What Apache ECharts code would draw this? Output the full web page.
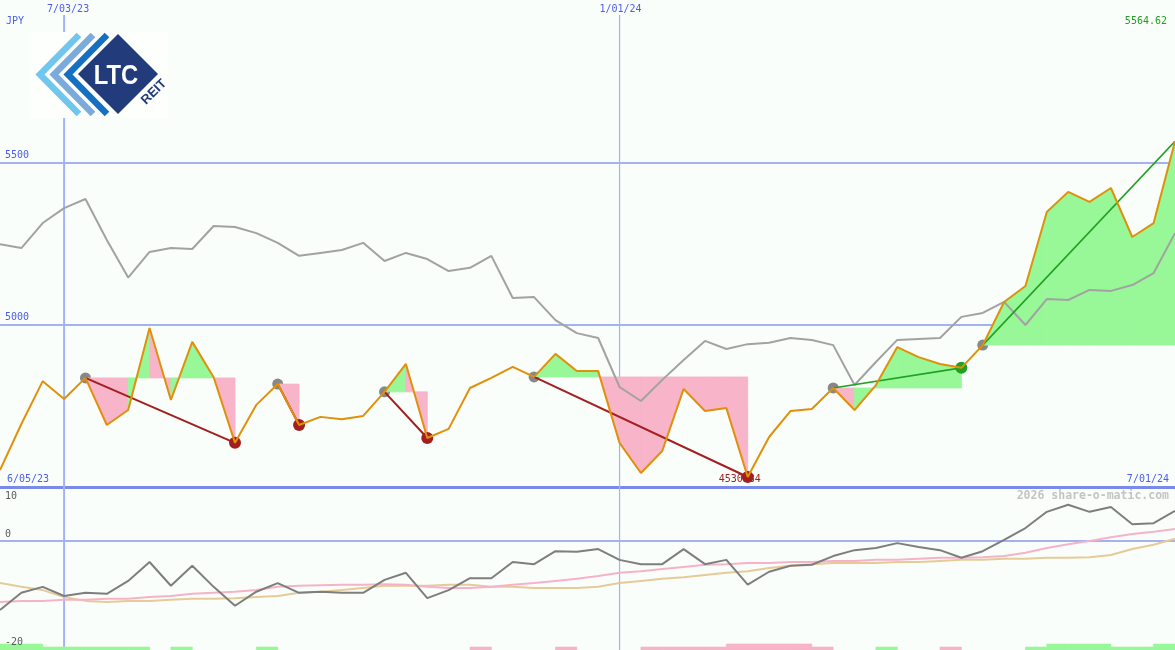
<!DOCTYPE html>
<html><head><meta charset="utf-8">
<script src="https://cdn.jsdelivr.net/npm/echarts@6/dist/echarts.min.js"></script>
<style>html,body{margin:0;padding:0;background:#fafefa}#c{width:1175px;height:650px}</style>
</head><body><div id="c"></div>
<script>
// ---------- data (weekly points, index 0..55) ----------
const gridDateIdx = [3, 29];
const gridDateLabels = ['7/03/23', '1/01/24'];
const rangeLabels = ['6/05/23', '7/01/24'];
const currency = 'JPY';
const watermark = '2026 share-o-matic.com';
const priceTicks = [5000, 5500];
const lowerTicks = [10, 0, -20];

const price = [4552,4694,4826,4771,4836,4691,4737,4990,4768,4947,
               4838,4636,4753,4817,4691,4716,4709,4719,4793,4879,
               4651,4679,4805,4836,4870,4839,4910,4857,4857,4636,
               4543,4611,4802,4734,4743,4530.84,4654,4734,4740,4805,
               4737,4814,4931,4900,4879,4867,4937,5070,5119,5347,
               5409,5378,5421,5270,5313,5564.62];
const indexLine = [5248,5236,5313,5359,5387,5261,5145,5224,5236,5233,
                   5304,5301,5282,5252,5212,5221,5230,5252,5196,5221,
                   5202,5165,5175,5212,5082,5085,5014,4974,4959,4808,
                   4765,4830,4891,4950,4925,4940,4944,4959,4953,4937,
                   4814,4885,4953,4956,4959,5024,5036,5070,4999,5079,
                   5076,5107,5104,5122,5159,5282];
const momentum = [-12.8,-9.6,-8.5,-10.2,-9.6,-9.8,-7.4,-3.9,-8.3,-4.6,
                  -8.5,-12.0,-9.4,-7.8,-9.6,-9.4,-9.6,-9.6,-7.2,-5.9,
                  -10.6,-9.1,-6.9,-6.9,-3.9,-4.3,-1.9,-2.0,-1.5,-3.5,
                  -4.3,-4.3,-1.5,-4.3,-3.5,-8.1,-5.7,-4.6,-4.4,-2.8,
                  -1.7,-1.3,-0.4,-1.1,-1.7,-3.1,-1.9,0.2,2.4,5.4,
                  6.7,5.4,6.3,3.1,3.3,5.6];
const maFast = [-11.3,-11.1,-11.1,-10.9,-10.9,-10.7,-10.7,-10.4,-10.2,-9.8,
                -9.6,-9.4,-9.1,-8.5,-8.3,-8.2,-8.1,-8.1,-8.0,-8.1,
                -8.5,-8.7,-8.7,-8.5,-8.1,-7.8,-7.4,-7.0,-6.5,-5.9,
                -5.6,-5.2,-4.8,-4.4,-4.3,-4.1,-4.1,-3.9,-3.9,-3.7,
                -3.7,-3.5,-3.5,-3.3,-3.1,-3.1,-3.0,-2.8,-2.2,-1.3,
                -0.6,0.0,0.7,1.3,1.7,2.2];
const maSlow = [-7.8,-8.5,-9.1,-10.4,-11.1,-11.3,-11.1,-11.1,-10.9,-10.7,
                -10.7,-10.6,-10.4,-10.2,-9.6,-9.4,-9.1,-8.7,-8.3,-8.3,
                -8.3,-8.1,-8.1,-8.5,-8.5,-8.7,-8.7,-8.7,-8.5,-7.8,
                -7.4,-7.0,-6.7,-6.3,-5.9,-5.6,-5.0,-4.6,-4.3,-4.1,
                -4.1,-4.1,-3.9,-3.9,-3.7,-3.5,-3.5,-3.3,-3.3,-3.1,
                -3.1,-3.0,-2.6,-1.5,-0.7,0.4];
// weekly signal bars, one per interval (i -> i+1): + green, - pink
const weekBars = [2,2,1,1,1,1,1,0,1,0, 0,0,1,0,0,0,0,0,0,0,
                  0,0,-1,0,0,0,-1,0,0,0, -1,-1,-1,-1,-2,-2,-2,-2,-1,0,
                  0,1,0,0,-1,0,0,0,1,2, 2,2,1,1,2];
const swingStart = [4, 13, 18, 25, 39, 46];
const swingEnd   = [11, 14, 20, 35, 45, 55];

// ---------- styles ----------
const BLUE = '#4b5cf0', GRIDC = '#a4b2f4', BG = '#fafefa';
const FONT = '10px "DejaVu Sans Mono"';
const PINK = '#f8b4c8', GREEN = '#98f898';
const RED_D = '#a31f1f', GREEN_D = '#22a022';
const last = price.length - 1;

const fillData = [], trendData = [], startDots = [], endDots = [];
swingStart.forEach((s, k) => {
  const e = swingEnd[k], lvl = price[s];
  for (let i = s; i < e; i++) fillData.push([i, lvl, price[i], price[i + 1]]);
  const up = price[e] > lvl ? 1 : 0;
  trendData.push([s, lvl, e, price[e], up]);
  startDots.push([s, lvl]);
  if (e < last) endDots.push([e, price[e], up]);
});
let minIdx = 0;
price.forEach((v, i) => { if (v < price[minIdx]) minIdx = i; });

const chart = echarts.init(document.getElementById('c'), null, {renderer: 'canvas'});
const txt = (x, y, text, fill, font, align, valign, extra) => Object.assign({
  type: 'text', x, y,
  style: {text, fill, font, align, verticalAlign: valign, textAlign: align, textVerticalAlign: valign}
}, extra || {});

const option = {
  backgroundColor: BG,
  animation: false,
  grid: [
    {left: 0, right: 0, top: 0, height: 487},
    {left: 0, right: 0, top: 487, height: 163}
  ],
  xAxis: [
    {type: 'value', gridIndex: 0, min: 0, max: last, axisLabel: {show: false}, axisTick: {show: false},
     splitLine: {show: false}, axisLine: {show: true, onZero: false, lineStyle: {color: '#7a8aea', width: 3}}},
    {type: 'value', gridIndex: 1, min: 0, max: last, show: false}
  ],
  yAxis: [
    {type: 'value', gridIndex: 0, min: 4500, max: 6000, interval: 500,
     axisLabel: {show: false}, axisTick: {show: false}, axisLine: {show: false},
     splitLine: {show: true, showMinLine: false, showMaxLine: false, lineStyle: {color: GRIDC, width: 2}}},
    {type: 'value', gridIndex: 1, min: -20.2, max: 10, show: false, splitLine: {show: false}}
  ],
  series: [
    // vertical date lines
    {type: 'custom', xAxisIndex: 0, yAxisIndex: 0, z: 1, silent: true,
     data: gridDateIdx.map(v => [v, 5000]),
     renderItem(params, api) {
       const cs = params.coordSys, x = api.coord([api.value(0), 5000])[0];
       return {type: 'line', shape: {x1: x, y1: cs.y + 15, x2: x, y2: cs.y + cs.height},
               style: {stroke: GRIDC, lineWidth: params.dataIndex === 0 ? 2 : 1.2}};
     }},
    {type: 'custom', xAxisIndex: 1, yAxisIndex: 1, z: 1, silent: true,
     data: gridDateIdx.map(v => [v, 0]),
     renderItem(params, api) {
       const cs = params.coordSys, x = api.coord([api.value(0), 0])[0];
       return {type: 'line', shape: {x1: x, y1: cs.y, x2: x, y2: cs.y + cs.height},
               style: {stroke: GRIDC, lineWidth: params.dataIndex === 0 ? 2 : 1.2}};
     }},
    // lower zero line
    {type: 'custom', xAxisIndex: 1, yAxisIndex: 1, z: 1, silent: true,
     data: [[0, 0]],
     renderItem(params, api) {
       const cs = params.coordSys, y = api.coord([0, api.value(1)])[1];
       return {type: 'line', shape: {x1: cs.x, y1: y, x2: cs.x + cs.width, y2: y},
               style: {stroke: GRIDC, lineWidth: 2}};
     }},
    // swing start dots (grey)
    {type: 'scatter', xAxisIndex: 0, yAxisIndex: 0, z: 2, silent: true, symbolSize: 11,
     itemStyle: {color: '#888888', opacity: 1}, data: startDots},
    // swing fills
    {type: 'custom', xAxisIndex: 0, yAxisIndex: 0, z: 3, silent: true,
     encode: {x: 0, y: [1, 2, 3]}, data: fillData,
     renderItem(params, api) {
       const i = api.value(0), lvl = api.value(1), a = api.value(2), b = api.value(3);
       const pts = [api.coord([i, lvl]), api.coord([i, a]), api.coord([i + 1, b]), api.coord([i + 1, lvl])];
       const c = b > lvl ? GREEN : PINK;
       return {type: 'polygon', shape: {points: pts}, style: {fill: c, stroke: c, lineWidth: 0.8}};
     }},
    // comparison index line
    {type: 'line', xAxisIndex: 0, yAxisIndex: 0, z: 4, silent: true, symbol: 'none',
     lineStyle: {color: '#a2a2a2', width: 2}, data: indexLine.map((v, i) => [i, v])},
    // min label
    {type: 'custom', xAxisIndex: 0, yAxisIndex: 0, z: 5, silent: true,
     data: [[minIdx, price[minIdx]]],
     renderItem(params, api) {
       const p = api.coord([api.value(0), api.value(1)]);
       return txt(p[0] - 8, p[1] + 2.5, api.value(1).toFixed(2), RED_D, FONT, 'center', 'middle');
     }},
    // swing end dots
    {type: 'scatter', xAxisIndex: 0, yAxisIndex: 0, z: 6, silent: true, symbolSize: 12,
     itemStyle: {color: p => p.data[2] ? GREEN_D : RED_D, opacity: 1}, data: endDots},
    // trend lines
    {type: 'custom', xAxisIndex: 0, yAxisIndex: 0, z: 7, silent: true, data: trendData,
     renderItem(params, api) {
       const a = api.coord([api.value(0), api.value(1)]), b = api.coord([api.value(2), api.value(3)]);
       const up = api.value(4);
       return {type: 'line', shape: {x1: a[0], y1: a[1], x2: b[0], y2: b[1]},
               style: {stroke: up ? GREEN_D : RED_D, lineWidth: up ? 1.6 : 2}};
     }},
    // price line
    {type: 'line', xAxisIndex: 0, yAxisIndex: 0, z: 8, silent: true, symbol: 'none',
     lineStyle: {color: '#e0900a', width: 2}, data: price.map((v, i) => [i, v])},
    // price tick labels
    {type: 'custom', xAxisIndex: 0, yAxisIndex: 0, z: 9, silent: true,
     data: priceTicks.map(v => [0, v]),
     renderItem(params, api) {
       const p = api.coord([0, api.value(1)]);
       return txt(params.coordSys.x + 5, p[1] - 2, String(api.value(1)), BLUE, FONT, 'left', 'bottom');
     }},
    // date labels on top
    {type: 'custom', xAxisIndex: 0, yAxisIndex: 0, z: 9, silent: true,
     data: gridDateIdx.map((v, k) => [v, 6000, k]),
     renderItem(params, api) {
       const p = api.coord([api.value(0), 6000]);
       return txt(p[0] + (params.dataIndex === 0 ? 4 : 1), params.coordSys.y + 9, gridDateLabels[api.value(2)], BLUE, FONT, 'center', 'middle');
     }},
    // last price label
    {type: 'custom', xAxisIndex: 0, yAxisIndex: 0, z: 9, silent: true,
     data: [[last, price[last]]],
     renderItem(params, api) {
       const cs = params.coordSys;
       return txt(cs.x + cs.width - 8, cs.y + 21.5, api.value(1).toFixed(2), GREEN_D, FONT, 'right', 'middle');
     }},
    // ---------- lower panel ----------
    {type: 'custom', xAxisIndex: 1, yAxisIndex: 1, z: 2, silent: true,
     data: weekBars.map((v, i) => [i, v]).filter(d => d[1] !== 0),
     renderItem(params, api) {
       const cs = params.coordSys, i = api.value(0), v = api.value(1);
       const x1 = api.coord([i, 0])[0], x2 = api.coord([i + 1, 0])[0];
       const h = Math.abs(v) * 3, yb = cs.y + cs.height;
       const c = v > 0 ? GREEN : PINK;
       return {type: 'rect', shape: {x: x1, y: yb - h, width: x2 - x1, height: h},
               style: {fill: c, stroke: c, lineWidth: 0.6}};
     }},
    {type: 'line', xAxisIndex: 1, yAxisIndex: 1, z: 3, silent: true, symbol: 'none',
     lineStyle: {color: '#e6cb98', width: 2}, data: maSlow.map((v, i) => [i, v])},
    {type: 'line', xAxisIndex: 1, yAxisIndex: 1, z: 4, silent: true, symbol: 'none',
     lineStyle: {color: '#f8b2c8', width: 2}, data: maFast.map((v, i) => [i, v])},
    {type: 'line', xAxisIndex: 1, yAxisIndex: 1, z: 5, silent: true, symbol: 'none',
     lineStyle: {color: '#7e7e7e', width: 2}, data: momentum.map((v, i) => [i, v])},
    {type: 'custom', xAxisIndex: 1, yAxisIndex: 1, z: 9, silent: true,
     data: lowerTicks.map(v => [0, v]),
     renderItem(params, api) {
       const cs = params.coordSys, y = api.coord([0, api.value(1)])[1];
       const top = y - 12 < cs.y;
       return txt(cs.x + 5, top ? y + 9 : y - 2, String(api.value(1)), '#5a5a5a', FONT, 'left', top ? 'middle' : 'bottom');
     }}
  ],
  graphic: [
    txt(6, 21.5, currency, BLUE, FONT, 'left', 'middle'),
    txt(7, 479.5, rangeLabels[0], BLUE, FONT, 'left', 'middle'),
    txt(1169, 479.5, rangeLabels[1], BLUE, FONT, 'right', 'middle'),
    txt(1169, 496.5, watermark, '#c4c4c4', 'bold 11.5px "DejaVu Sans Mono"', 'right', 'middle'),
    // logo
    {type: 'rect', shape: {x: 31, y: 32, width: 137, height: 86}, style: {fill: '#fdfffd'}, z: 20},
    {type: 'polyline', shape: {points: [[79, 35], [40, 74.5], [79, 114]]}, style: {stroke: '#6fc6ee', lineWidth: 6.5, fill: null, lineJoin: 'miter'}, z: 21},
    {type: 'polyline', shape: {points: [[93, 35], [54, 74.5], [93, 114]]}, style: {stroke: '#7aabdc', lineWidth: 6.5, fill: null, lineJoin: 'miter'}, z: 21},
    {type: 'polyline', shape: {points: [[107, 35], [68, 74.5], [107, 114]]}, style: {stroke: '#1470c0', lineWidth: 6.5, fill: null, lineJoin: 'miter'}, z: 21},
    {type: 'polygon', shape: {points: [[118, 34], [158, 74], [118, 114], [78, 74]]}, style: {fill: '#213b7b'}, z: 21},
    txt(116, 76, 'LTC', '#ffffff', 'bold 28px "Liberation Sans"', 'center', 'middle', {scaleX: 0.85, z: 22}),
    txt(154, 92, 'REIT', '#213b7b', 'bold 13px "Liberation Sans"', 'center', 'middle', {rotation: Math.PI / 4, z: 22})
  ]
};
chart.setOption(option);
</script></body></html>
